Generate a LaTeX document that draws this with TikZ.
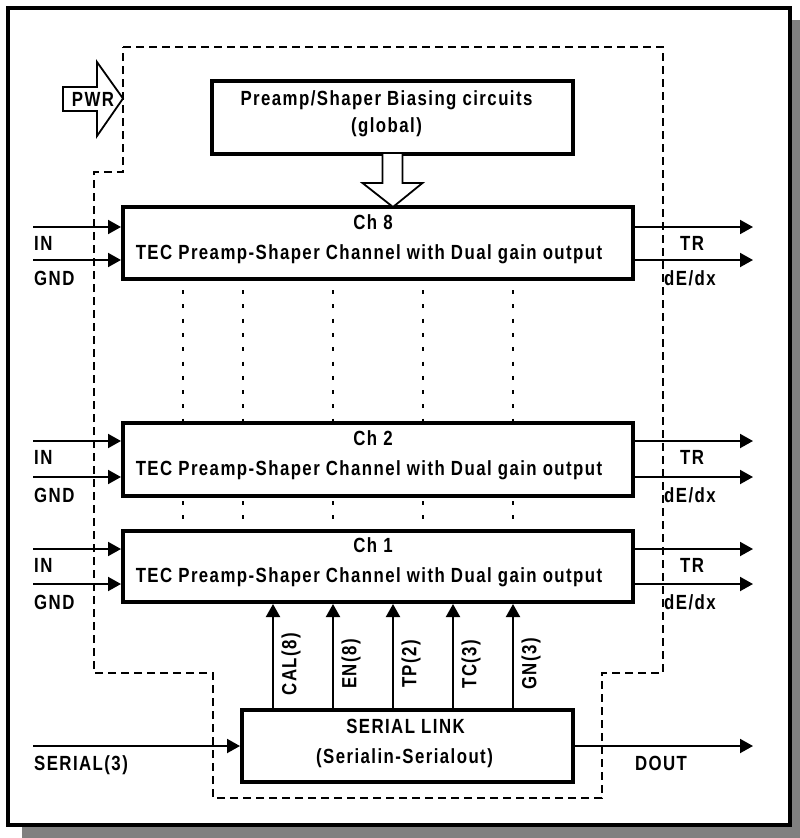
\documentclass[tikz,border=0pt]{standalone}
\usepackage{fontspec}
\setmainfont{Liberation Sans}[FakeStretch=0.82,LetterSpace=7]
\usetikzlibrary{arrows.meta,calc}
\begin{document}
\begin{tikzpicture}[x=1pt,y=-1pt,
  every node/.style={font=\fontsize{20.5}{30}\selectfont\bfseries, inner sep=0pt},
  blk/.style={draw,line width=4pt,fill=white},
  chbox/.style={blk,minimum width=510pt},
  txt/.style={anchor=base},
  sig/.style={line width=2pt,-{Triangle[length=13pt,width=14pt]}},
  dashline/.style={line width=1.8pt,dash pattern=on 8pt off 5pt},
  dotline/.style={line width=1.6pt,dash pattern=on 4pt off 10.3pt},
  hollow/.style={line width=1.8pt,fill=white,line join=miter}
]
\useasboundingbox (0,0) rectangle (800,838);
% shadow and frame
\fill[black!50] (22,20) rectangle (800,838);
\draw[line width=4.5pt,fill=white] (8,8) rectangle (790,825);

% dashed boundary
\draw[dashline] (123,47) -- (663,47) -- (663,673) -- (602,673) -- (602,798)
  -- (213,798) -- (213,673) -- (94,673) -- (94,172) -- (123,172) -- cycle;

% blocks
\node[blk,minimum width=361pt,minimum height=73pt] (bias) at (392.5,117.5) {};
\node[txt] (biasa) at ($(bias.center)+(-6,-12.5)$) {Preamp/Shaper Biasing circuits};
\node[txt] (biasb) at ($(bias.center)+(-6,15)$) {(global)};

\foreach \c/\n/\y/\h in {ch8/8/243/72, ch2/2/459.5/73, ch1/1/566.5/71}{
  \node[chbox,minimum height=\h pt] (\c) at (378,\y) {};
  \node[txt] (\c a) at ($(\c.center)+(-5,-14)$) {Ch \n};
  \node[txt] (\c b) at ($(\c.center)+(-9,16)$) {TEC Preamp-Shaper Channel with Dual gain output};
}

\node[blk,minimum width=331pt,minimum height=72pt] (serial) at (407.5,746) {};
\node[txt] (seriala) at ($(serial.center)+(-2,-13)$) {SERIAL LINK};
\node[txt] (serialb) at ($(serial.center)+(-3,17)$) {(Serialin-Serialout)};

% hollow arrow from biasing block to Ch 8
\draw[hollow] ($(bias.south)+(-10,-2)$) -- ($(bias.south)+(-10,27)$)
  -- ($(bias.south)+(-30,27)$) -- ($(ch8.north)+(15,2)$)
  -- ($(bias.south)+(30,27)$) -- ($(bias.south)+(10,27)$)
  -- ($(bias.south)+(10,-2)$);

% PWR hollow arrow
\coordinate (pwrtip) at (123,98.5);
\draw[hollow] (63,87) -- (97,87) -- (97,62) -- (pwrtip) -- (97,136) -- (97,111) -- (63,111) -- cycle;
\node[txt] (pwr) at (93,106) {PWR};

% inputs and outputs of channels
\foreach \c/\ya/\yb in {ch8/227/260, ch2/441/477, ch1/549/584}{
  \coordinate (\c ia) at (33,\ya);
  \coordinate (\c ib) at (33,\yb);
  \coordinate (\c oa) at (753,\ya);
  \coordinate (\c ob) at (753,\yb);
  \draw[sig] (\c ia) -- (\c ia -| \c.west);
  \draw[sig] (\c ib) -- (\c ib -| \c.west);
  \draw[sig] (\c oa -| \c.east) -- (\c oa);
  \draw[sig] (\c ob -| \c.east) -- (\c ob);
  \node[txt,anchor=base west] (\c in) at (34,\ya+23) {IN};
  \node[txt,anchor=base west] (\c gnd) at (34,\yb+25) {GND};
  \node[txt] (\c tr) at (692,\ya+23) {TR};
  \node[txt,anchor=base west] (\c de) at (664,\yb+25) {dE/dx};
}

% dotted continuation lines
\foreach \x in {183,243,333,423,513}{
  \coordinate (dd) at (\x,0);
  \draw[dotline] ($(dd |- ch8.south)+(0,9)$) -- (dd |- ch2.north);
  \draw[dotline] ($(dd |- ch2.south)+(0,3)$) -- (dd |- ch1.north);
}

% control lines from serial link to Ch 1
\foreach \x/\t in {273/CAL(8),333/EN(8),393/TP(2),453/TC(3),513/GN(3)}{
  \coordinate (cc) at (\x,0);
  \draw[sig] (cc |- serial.north) -- (cc |- ch1.south);
  \node[rotate=90] at (\x+18,664) {\t};
}

% serial in / out
\coordinate (sin) at (33,746);
\coordinate (sout) at (753,746);
\draw[sig] (sin) -- (sin -| serial.west);
\draw[sig] (serial.east |- sout) -- (sout);
\node[txt,anchor=base west] (sinl) at (34,770) {SERIAL(3)};
\node[txt] (doutl) at (661,770) {DOUT};
\end{tikzpicture}
\end{document}
